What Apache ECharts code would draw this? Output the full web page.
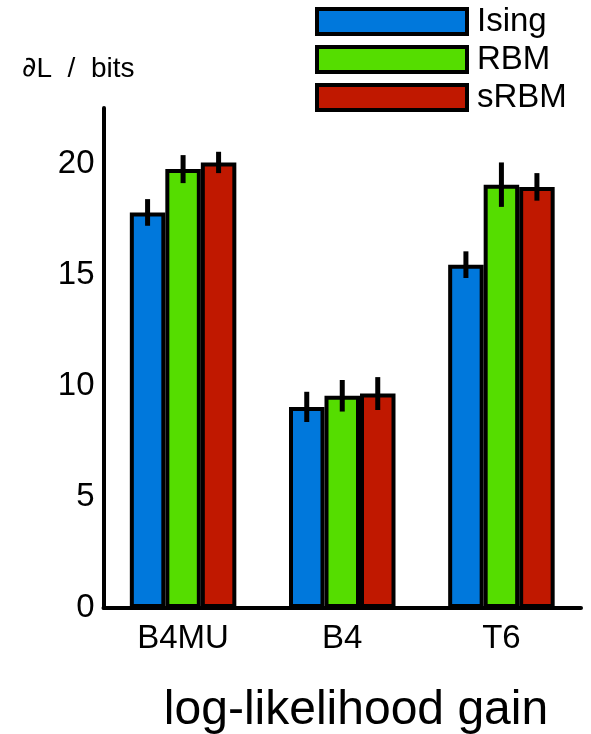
<!DOCTYPE html>
<html>
<head>
<meta charset="utf-8">
<script src="https://cdn.jsdelivr.net/npm/echarts@6/dist/echarts.min.js"></script>
<style>html,body{margin:0;padding:0;background:#fff;}#c{width:591px;height:734px;}</style>
</head>
<body>
<div id="c"></div>
<script>
const categories = ['B4MU', 'B4', 'T6'];
const seriesNames = ['Ising', 'RBM', 'sRBM'];
const ising = [17.8, 9.05, 15.45];
const rbm = [19.75, 9.55, 19.05];
const srbm = [20.05, 9.65, 18.95];
const isingErr = [0.6, 0.68, 0.6];
const rbmErr = [0.63, 0.71, 1.0];
const srbmErr = [0.48, 0.74, 0.62];
const yTicks = [0, 5, 10, 15, 20];

const colors = ['#0078DC', '#55DD00', '#C01800'];
const FONT = 'Liberation Sans';
const BAR_W = 35.5;

const values = [ising, rbm, srbm];
const errs = [isingErr, rbmErr, srbmErr];

const errData = [];
values.forEach((vals, s) => {
  vals.forEach((v, i) => errData.push([i, v, errs[s][i], s]));
});

const chart = echarts.init(document.getElementById('c'), null, {renderer: 'canvas'});
const barSeries = seriesNames.map((name, s) => ({
  name: name,
  type: 'bar',
  data: values[s],
  barWidth: BAR_W,
  barGap: '0%',
  itemStyle: {color: colors[s], borderColor: '#000', borderWidth: 4},
  z: 2
}));

chart.setOption({
  animation: false,
  backgroundColor: '#fff',
  textStyle: {fontFamily: FONT},
  grid: {left: 103.5, right: 10, top: 108, bottom: 126},
  legend: {
    orient: 'vertical',
    left: 315,
    top: 5,
    padding: 0,
    itemWidth: 150,
    itemHeight: 25,
    itemGap: 5,
    icon: 'rect',
    itemStyle: {borderColor: '#000', borderWidth: 4},
    textStyle: {fontFamily: FONT, fontSize: 33, color: '#000', padding: [0, 0, 0, 5]},
    data: seriesNames
  },
  xAxis: {
    type: 'category',
    data: categories,
    axisLine: {lineStyle: {color: '#000', width: 4}},
    axisTick: {show: false},
    axisLabel: {color: '#000', fontSize: 33, fontFamily: FONT, margin: 14}
  },
  yAxis: {
    type: 'value',
    min: 0,
    max: 22.5,
    interval: 5,
    axisLine: {show: true, lineStyle: {color: '#000', width: 4}},
    axisTick: {show: false},
    splitLine: {show: false},
    axisLabel: {
      color: '#000', fontSize: 33, fontFamily: FONT, margin: 9,
      showMaxLabel: false,
      formatter: v => (yTicks.indexOf(v) >= 0 ? String(v) : '')
    }
  },
  graphic: [
    {type: 'text', left: 22, top: 55, style: {
      text: '{d|∂}L  /  bits', fontSize: 28, fontFamily: FONT, fill: '#000',
      rich: {d: {fontFamily: 'DejaVu Sans', fontSize: 28, fill: '#000'}}
    }},
    {type: 'text', x: 356, y: 711, style: {text: 'log-likelihood gain', fontSize: 48, fontFamily: FONT, fill: '#000', textAlign: 'center', textVerticalAlign: 'middle'}}
  ],
  series: barSeries.concat([{
    type: 'custom',
    data: errData,
    z: 5,
    silent: true,
    renderItem: function (params, api) {
      const cat = api.value(0), v = api.value(1), e = api.value(2), s = api.value(3);
      const top = api.coord([cat, v + e]);
      const bot = api.coord([cat, v - e]);
      const x = top[0] + (s - 1) * BAR_W;
      return {
        type: 'line',
        shape: {x1: x, y1: top[1], x2: x, y2: bot[1]},
        style: {stroke: '#000', lineWidth: 5}
      };
    }
  }])
});
</script>
</body>
</html>
